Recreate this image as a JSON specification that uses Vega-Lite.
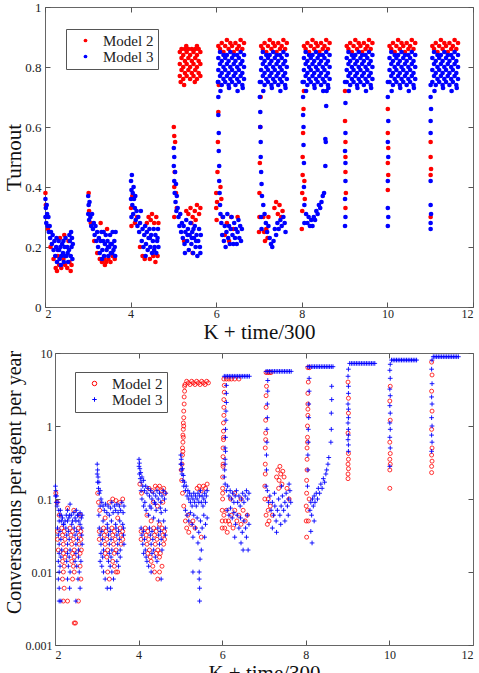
{
"$schema":"https://vega.github.io/schema/vega-lite/v6.json",
"background":"white",
"padding":{"left":3,"top":0,"right":6,"bottom":0},
"config":{
"view":{"stroke":"#666","strokeWidth":1},
"axis":{"grid":false,"domain":false,"domainColor":"#666","tickColor":"#555","tickSize":-5,"tickWidth":1,"labelFont":"Liberation Serif","labelFontSize":12,"labelColor":"#222","titleFont":"Liberation Serif","titleFontSize":21,"titleFontWeight":"normal","titleColor":"#111","labelPadding":9},
"legend":{"orient":"none","labelFont":"Liberation Serif","labelFontSize":15,"labelColor":"#222","strokeColor":"#555","padding":4,"symbolOffset":8,"labelOffset":10,"rowPadding":0,"symbolStrokeWidth":1}
},
"columns":1,
"spacing":4,
"resolve":{"scale":{"color":"independent","shape":"independent"},"legend":{"color":"independent","shape":"independent"}},
"datasets":{
"t":[
{"m":2,"x":2.01,"y":0.38},{"m":2,"x":2.02,"y":0.34},{"m":2,"x":2.03,"y":0.3},{"m":2,"x":2.07,"y":0.26},{"m":2,"x":2.13,"y":0.2},{"m":2,"x":2.2,"y":0.16},{"m":2,"x":2.25,"y":0.13},{"m":2,"x":2.28,"y":0.12},{"m":2,"x":2.33,"y":0.14},{"m":2,"x":2.38,"y":0.13},{"m":2,"x":2.43,"y":0.16},{"m":2,"x":2.47,"y":0.14},{"m":2,"x":2.52,"y":0.13},{"m":2,"x":2.57,"y":0.15},{"m":2,"x":2.62,"y":0.14},{"m":2,"x":2.35,"y":0.23},{"m":2,"x":2.45,"y":0.24},{"m":2,"x":2.55,"y":0.22},{"m":2,"x":2.3,"y":0.17},{"m":2,"x":2.6,"y":0.12},
{"m":2,"x":3.02,"y":0.38},{"m":2,"x":3.03,"y":0.32},{"m":2,"x":3.07,"y":0.28},{"m":2,"x":3.15,"y":0.22},{"m":2,"x":3.22,"y":0.18},{"m":2,"x":3.28,"y":0.16},{"m":2,"x":3.33,"y":0.15},{"m":2,"x":3.38,"y":0.16},{"m":2,"x":3.43,"y":0.15},{"m":2,"x":3.48,"y":0.16},{"m":2,"x":3.53,"y":0.15},{"m":2,"x":3.58,"y":0.17},{"m":2,"x":3.63,"y":0.16},{"m":2,"x":3.3,"y":0.28},{"m":2,"x":3.45,"y":0.26},{"m":2,"x":3.4,"y":0.14},
{"m":2,"x":4.01,"y":0.33},{"m":2,"x":4.02,"y":0.27},{"m":2,"x":4.04,"y":0.37},{"m":2,"x":4.1,"y":0.28},{"m":2,"x":4.15,"y":0.3},{"m":2,"x":4.22,"y":0.2},{"m":2,"x":4.28,"y":0.17},{"m":2,"x":4.33,"y":0.16},{"m":2,"x":4.38,"y":0.28},{"m":2,"x":4.42,"y":0.3},{"m":2,"x":4.47,"y":0.29},{"m":2,"x":4.5,"y":0.31},{"m":2,"x":4.53,"y":0.17},{"m":2,"x":4.55,"y":0.28},{"m":2,"x":4.58,"y":0.15},{"m":2,"x":4.6,"y":0.3},{"m":2,"x":4.63,"y":0.17},{"m":2,"x":4.65,"y":0.28},{"m":2,"x":4.45,"y":0.16},
{"m":2,"x":5.01,"y":0.6},{"m":2,"x":5.02,"y":0.57},{"m":2,"x":5.04,"y":0.55},{"m":2,"x":5.03,"y":0.45},{"m":2,"x":5.02,"y":0.4},{"m":2,"x":5.06,"y":0.38},{"m":2,"x":5.08,"y":0.33},{"m":2,"x":5.02,"y":0.3},{"m":2,"x":5.3,"y":0.32},{"m":2,"x":5.35,"y":0.31},{"m":2,"x":5.4,"y":0.33},{"m":2,"x":5.45,"y":0.3},{"m":2,"x":5.5,"y":0.32},{"m":2,"x":5.55,"y":0.34},{"m":2,"x":5.6,"y":0.31},{"m":2,"x":5.63,"y":0.33},{"m":2,"x":5.42,"y":0.28},{"m":2,"x":5.52,"y":0.29},{"m":2,"x":5.25,"y":0.22},{"m":2,"x":5.45,"y":0.18},
{"m":2,"x":5.15,"y":0.77},{"m":2,"x":5.15,"y":0.81},{"m":2,"x":5.15,"y":0.85},{"m":2,"x":5.19,"y":0.79},{"m":2,"x":5.19,"y":0.83},{"m":2,"x":5.19,"y":0.86},{"m":2,"x":5.23,"y":0.76},{"m":2,"x":5.23,"y":0.8},{"m":2,"x":5.23,"y":0.84},{"m":2,"x":5.27,"y":0.78},{"m":2,"x":5.27,"y":0.82},{"m":2,"x":5.27,"y":0.86},{"m":2,"x":5.31,"y":0.77},{"m":2,"x":5.31,"y":0.81},{"m":2,"x":5.31,"y":0.85},{"m":2,"x":5.35,"y":0.79},{"m":2,"x":5.35,"y":0.83},{"m":2,"x":5.35,"y":0.86},{"m":2,"x":5.39,"y":0.76},{"m":2,"x":5.39,"y":0.8},{"m":2,"x":5.39,"y":0.84},{"m":2,"x":5.43,"y":0.78},{"m":2,"x":5.43,"y":0.82},{"m":2,"x":5.43,"y":0.86},{"m":2,"x":5.47,"y":0.77},{"m":2,"x":5.47,"y":0.81},{"m":2,"x":5.47,"y":0.85},{"m":2,"x":5.51,"y":0.79},{"m":2,"x":5.51,"y":0.83},{"m":2,"x":5.51,"y":0.86},{"m":2,"x":5.55,"y":0.76},{"m":2,"x":5.55,"y":0.8},{"m":2,"x":5.55,"y":0.84},{"m":2,"x":5.59,"y":0.78},{"m":2,"x":5.59,"y":0.82},{"m":2,"x":5.59,"y":0.86},{"m":2,"x":5.63,"y":0.77},{"m":2,"x":5.63,"y":0.81},{"m":2,"x":5.63,"y":0.85},{"m":2,"x":5.17,"y":0.75},{"m":2,"x":5.25,"y":0.74},{"m":2,"x":5.5,"y":0.75},{"m":2,"x":5.3,"y":0.87},{"m":2,"x":5.55,"y":0.87},
{"m":2,"x":6.0,"y":0.38},{"m":2,"x":6.0,"y":0.33},{"m":2,"x":6.01,"y":0.29},{"m":2,"x":6.02,"y":0.35},{"m":2,"x":6.03,"y":0.45},{"m":2,"x":6.04,"y":0.55},{"m":2,"x":6.05,"y":0.65},{"m":2,"x":6.06,"y":0.74},{"m":2,"x":6.1,"y":0.4},{"m":2,"x":6.12,"y":0.36},{"m":2,"x":6.15,"y":0.3},{"m":2,"x":6.2,"y":0.24},{"m":2,"x":6.25,"y":0.28},{"m":2,"x":6.3,"y":0.22},{"m":2,"x":6.35,"y":0.3},{"m":2,"x":6.4,"y":0.26},{"m":2,"x":6.5,"y":0.3},
{"m":2,"x":6.05,"y":0.87},{"m":2,"x":6.09,"y":0.86},{"m":2,"x":6.13,"y":0.88},{"m":2,"x":6.17,"y":0.85},{"m":2,"x":6.21,"y":0.87},{"m":2,"x":6.25,"y":0.89},{"m":2,"x":6.29,"y":0.86},{"m":2,"x":6.33,"y":0.88},{"m":2,"x":6.37,"y":0.87},{"m":2,"x":6.41,"y":0.85},{"m":2,"x":6.45,"y":0.88},{"m":2,"x":6.49,"y":0.86},{"m":2,"x":6.53,"y":0.87},{"m":2,"x":6.57,"y":0.89},{"m":2,"x":6.61,"y":0.86},{"m":2,"x":6.65,"y":0.88},
{"m":2,"x":7.0,"y":0.25},{"m":2,"x":7.01,"y":0.3},{"m":2,"x":7.01,"y":0.38},{"m":2,"x":7.02,"y":0.48},{"m":2,"x":7.03,"y":0.6},{"m":2,"x":7.04,"y":0.7},{"m":2,"x":7.1,"y":0.3},{"m":2,"x":7.12,"y":0.25},{"m":2,"x":7.14,"y":0.22},{"m":2,"x":7.17,"y":0.26},{"m":2,"x":7.2,"y":0.23},{"m":2,"x":7.22,"y":0.3},{"m":2,"x":7.36,"y":0.33},{"m":2,"x":7.4,"y":0.35},{"m":2,"x":7.44,"y":0.31},{"m":2,"x":7.48,"y":0.34},{"m":2,"x":7.52,"y":0.3},{"m":2,"x":7.55,"y":0.32},
{"m":2,"x":7.05,"y":0.87},{"m":2,"x":7.09,"y":0.86},{"m":2,"x":7.13,"y":0.88},{"m":2,"x":7.17,"y":0.85},{"m":2,"x":7.21,"y":0.87},{"m":2,"x":7.25,"y":0.89},{"m":2,"x":7.29,"y":0.86},{"m":2,"x":7.33,"y":0.88},{"m":2,"x":7.37,"y":0.87},{"m":2,"x":7.41,"y":0.85},{"m":2,"x":7.45,"y":0.88},{"m":2,"x":7.49,"y":0.86},{"m":2,"x":7.53,"y":0.87},{"m":2,"x":7.57,"y":0.89},{"m":2,"x":7.61,"y":0.86},{"m":2,"x":7.65,"y":0.88},
{"m":2,"x":8.0,"y":0.26},{"m":2,"x":8.01,"y":0.32},{"m":2,"x":8.01,"y":0.38},{"m":2,"x":8.02,"y":0.44},{"m":2,"x":8.02,"y":0.5},{"m":2,"x":8.03,"y":0.58},{"m":2,"x":8.04,"y":0.66},{"m":2,"x":8.05,"y":0.72},{"m":2,"x":8.06,"y":0.42},{"m":2,"x":8.07,"y":0.36},
{"m":2,"x":8.05,"y":0.87},{"m":2,"x":8.09,"y":0.86},{"m":2,"x":8.13,"y":0.88},{"m":2,"x":8.17,"y":0.85},{"m":2,"x":8.21,"y":0.87},{"m":2,"x":8.25,"y":0.89},{"m":2,"x":8.29,"y":0.86},{"m":2,"x":8.33,"y":0.88},{"m":2,"x":8.37,"y":0.87},{"m":2,"x":8.41,"y":0.85},{"m":2,"x":8.45,"y":0.88},{"m":2,"x":8.49,"y":0.86},{"m":2,"x":8.53,"y":0.87},{"m":2,"x":8.57,"y":0.89},{"m":2,"x":8.61,"y":0.86},{"m":2,"x":8.65,"y":0.88},
{"m":2,"x":9.01,"y":0.72},{"m":2,"x":9.01,"y":0.62},{"m":2,"x":9.02,"y":0.55},{"m":2,"x":9.02,"y":0.5},{"m":2,"x":9.02,"y":0.45},{"m":2,"x":9.03,"y":0.38},{"m":2,"x":9.02,"y":0.33},
{"m":2,"x":9.05,"y":0.87},{"m":2,"x":9.09,"y":0.86},{"m":2,"x":9.13,"y":0.88},{"m":2,"x":9.17,"y":0.85},{"m":2,"x":9.21,"y":0.87},{"m":2,"x":9.25,"y":0.89},{"m":2,"x":9.29,"y":0.86},{"m":2,"x":9.33,"y":0.88},{"m":2,"x":9.37,"y":0.87},{"m":2,"x":9.41,"y":0.85},{"m":2,"x":9.45,"y":0.88},{"m":2,"x":9.49,"y":0.86},{"m":2,"x":9.53,"y":0.87},{"m":2,"x":9.57,"y":0.89},{"m":2,"x":9.61,"y":0.86},{"m":2,"x":9.65,"y":0.88},
{"m":2,"x":10.01,"y":0.66},{"m":2,"x":10.01,"y":0.58},{"m":2,"x":10.02,"y":0.53},{"m":2,"x":10.01,"y":0.48},{"m":2,"x":10.02,"y":0.44},{"m":2,"x":10.01,"y":0.39},
{"m":2,"x":10.05,"y":0.87},{"m":2,"x":10.09,"y":0.86},{"m":2,"x":10.13,"y":0.88},{"m":2,"x":10.17,"y":0.85},{"m":2,"x":10.21,"y":0.87},{"m":2,"x":10.25,"y":0.89},{"m":2,"x":10.29,"y":0.86},{"m":2,"x":10.33,"y":0.88},{"m":2,"x":10.37,"y":0.87},{"m":2,"x":10.41,"y":0.85},{"m":2,"x":10.45,"y":0.88},{"m":2,"x":10.49,"y":0.86},{"m":2,"x":10.53,"y":0.87},{"m":2,"x":10.57,"y":0.89},{"m":2,"x":10.61,"y":0.86},{"m":2,"x":10.65,"y":0.88},
{"m":2,"x":11.01,"y":0.55},{"m":2,"x":11.01,"y":0.5},{"m":2,"x":11.02,"y":0.46},{"m":2,"x":11.01,"y":0.44},{"m":2,"x":11.01,"y":0.3},
{"m":2,"x":11.05,"y":0.87},{"m":2,"x":11.09,"y":0.86},{"m":2,"x":11.13,"y":0.88},{"m":2,"x":11.17,"y":0.85},{"m":2,"x":11.21,"y":0.87},{"m":2,"x":11.25,"y":0.89},{"m":2,"x":11.29,"y":0.86},{"m":2,"x":11.33,"y":0.88},{"m":2,"x":11.37,"y":0.87},{"m":2,"x":11.41,"y":0.85},{"m":2,"x":11.45,"y":0.88},{"m":2,"x":11.49,"y":0.86},{"m":2,"x":11.53,"y":0.87},{"m":2,"x":11.57,"y":0.89},{"m":2,"x":11.61,"y":0.86},{"m":2,"x":11.65,"y":0.88},
{"m":3,"x":2.01,"y":0.36},{"m":3,"x":2.01,"y":0.3},{"m":3,"x":2.02,"y":0.33},{"m":3,"x":2.03,"y":0.28},{"m":3,"x":2.04,"y":0.34},{"m":3,"x":2.05,"y":0.31},{"m":3,"x":2.06,"y":0.27},{"m":3,"x":2.08,"y":0.3},{"m":3,"x":2.09,"y":0.25},{"m":3,"x":2.11,"y":0.27},{"m":3,"x":2.12,"y":0.23},{"m":3,"x":2.14,"y":0.25},{"m":3,"x":2.16,"y":0.21},{"m":3,"x":2.18,"y":0.24},{"m":3,"x":2.2,"y":0.19},{"m":3,"x":2.22,"y":0.22},{"m":3,"x":2.24,"y":0.17},{"m":3,"x":2.26,"y":0.2},{"m":3,"x":2.28,"y":0.15},{"m":3,"x":2.3,"y":0.19},{"m":3,"x":2.32,"y":0.22},{"m":3,"x":2.34,"y":0.16},{"m":3,"x":2.36,"y":0.2},{"m":3,"x":2.38,"y":0.17},{"m":3,"x":2.4,"y":0.21},{"m":3,"x":2.42,"y":0.18},{"m":3,"x":2.44,"y":0.15},{"m":3,"x":2.46,"y":0.2},{"m":3,"x":2.48,"y":0.23},{"m":3,"x":2.5,"y":0.17},{"m":3,"x":2.52,"y":0.2},{"m":3,"x":2.54,"y":0.15},{"m":3,"x":2.56,"y":0.19},{"m":3,"x":2.58,"y":0.22},{"m":3,"x":2.6,"y":0.17},{"m":3,"x":2.61,"y":0.25},{"m":3,"x":2.62,"y":0.2},{"m":3,"x":2.64,"y":0.16},{"m":3,"x":2.65,"y":0.21},{"m":3,"x":2.27,"y":0.23},{"m":3,"x":2.37,"y":0.14},{"m":3,"x":2.47,"y":0.17},{"m":3,"x":2.57,"y":0.24},{"m":3,"x":2.33,"y":0.19},{"m":3,"x":2.43,"y":0.22},{"m":3,"x":2.53,"y":0.18},{"m":3,"x":2.63,"y":0.23},
{"m":3,"x":3.01,"y":0.37},{"m":3,"x":3.01,"y":0.31},{"m":3,"x":3.02,"y":0.34},{"m":3,"x":3.03,"y":0.29},{"m":3,"x":3.04,"y":0.35},{"m":3,"x":3.06,"y":0.3},{"m":3,"x":3.08,"y":0.27},{"m":3,"x":3.1,"y":0.31},{"m":3,"x":3.12,"y":0.26},{"m":3,"x":3.14,"y":0.28},{"m":3,"x":3.16,"y":0.24},{"m":3,"x":3.18,"y":0.27},{"m":3,"x":3.2,"y":0.22},{"m":3,"x":3.22,"y":0.25},{"m":3,"x":3.24,"y":0.2},{"m":3,"x":3.26,"y":0.23},{"m":3,"x":3.28,"y":0.18},{"m":3,"x":3.3,"y":0.22},{"m":3,"x":3.32,"y":0.25},{"m":3,"x":3.34,"y":0.19},{"m":3,"x":3.36,"y":0.22},{"m":3,"x":3.38,"y":0.17},{"m":3,"x":3.4,"y":0.21},{"m":3,"x":3.42,"y":0.24},{"m":3,"x":3.44,"y":0.19},{"m":3,"x":3.46,"y":0.22},{"m":3,"x":3.48,"y":0.17},{"m":3,"x":3.5,"y":0.2},{"m":3,"x":3.52,"y":0.24},{"m":3,"x":3.54,"y":0.18},{"m":3,"x":3.56,"y":0.21},{"m":3,"x":3.58,"y":0.25},{"m":3,"x":3.6,"y":0.19},{"m":3,"x":3.62,"y":0.22},{"m":3,"x":3.64,"y":0.17},{"m":3,"x":3.65,"y":0.25},{"m":3,"x":3.37,"y":0.25},{"m":3,"x":3.47,"y":0.2},{"m":3,"x":3.57,"y":0.18},{"m":3,"x":3.33,"y":0.16},{"m":3,"x":3.53,"y":0.21},{"m":3,"x":3.63,"y":0.2},
{"m":3,"x":4.01,"y":0.42},{"m":3,"x":4.01,"y":0.36},{"m":3,"x":4.02,"y":0.39},{"m":3,"x":4.02,"y":0.3},{"m":3,"x":4.03,"y":0.44},{"m":3,"x":4.04,"y":0.34},{"m":3,"x":4.05,"y":0.38},{"m":3,"x":4.06,"y":0.31},{"m":3,"x":4.08,"y":0.36},{"m":3,"x":4.1,"y":0.33},{"m":3,"x":4.12,"y":0.29},{"m":3,"x":4.14,"y":0.32},{"m":3,"x":4.16,"y":0.27},{"m":3,"x":4.18,"y":0.3},{"m":3,"x":4.2,"y":0.25},{"m":3,"x":4.22,"y":0.28},{"m":3,"x":4.24,"y":0.32},{"m":3,"x":4.26,"y":0.22},{"m":3,"x":4.28,"y":0.26},{"m":3,"x":4.3,"y":0.2},{"m":3,"x":4.32,"y":0.24},{"m":3,"x":4.34,"y":0.27},{"m":3,"x":4.36,"y":0.21},{"m":3,"x":4.38,"y":0.25},{"m":3,"x":4.4,"y":0.19},{"m":3,"x":4.42,"y":0.23},{"m":3,"x":4.44,"y":0.26},{"m":3,"x":4.46,"y":0.2},{"m":3,"x":4.48,"y":0.24},{"m":3,"x":4.5,"y":0.18},{"m":3,"x":4.52,"y":0.22},{"m":3,"x":4.54,"y":0.26},{"m":3,"x":4.56,"y":0.2},{"m":3,"x":4.58,"y":0.24},{"m":3,"x":4.6,"y":0.18},{"m":3,"x":4.62,"y":0.22},{"m":3,"x":4.64,"y":0.26},{"m":3,"x":4.65,"y":0.2},{"m":3,"x":4.07,"y":0.4},{"m":3,"x":4.11,"y":0.37},{"m":3,"x":4.35,"y":0.17},{"m":3,"x":4.45,"y":0.23},{"m":3,"x":4.55,"y":0.19},{"m":3,"x":4.63,"y":0.23},
{"m":3,"x":5.01,"y":0.53},{"m":3,"x":5.01,"y":0.47},{"m":3,"x":5.02,"y":0.5},{"m":3,"x":5.02,"y":0.42},{"m":3,"x":5.03,"y":0.38},{"m":3,"x":5.04,"y":0.45},{"m":3,"x":5.05,"y":0.35},{"m":3,"x":5.06,"y":0.41},{"m":3,"x":5.07,"y":0.32},{"m":3,"x":5.08,"y":0.37},{"m":3,"x":5.1,"y":0.33},{"m":3,"x":5.12,"y":0.3},{"m":3,"x":5.14,"y":0.27},{"m":3,"x":5.16,"y":0.31},{"m":3,"x":5.18,"y":0.25},{"m":3,"x":5.2,"y":0.28},{"m":3,"x":5.22,"y":0.23},{"m":3,"x":5.24,"y":0.27},{"m":3,"x":5.26,"y":0.21},{"m":3,"x":5.28,"y":0.25},{"m":3,"x":5.3,"y":0.29},{"m":3,"x":5.32,"y":0.22},{"m":3,"x":5.34,"y":0.26},{"m":3,"x":5.36,"y":0.19},{"m":3,"x":5.38,"y":0.24},{"m":3,"x":5.4,"y":0.28},{"m":3,"x":5.42,"y":0.21},{"m":3,"x":5.44,"y":0.25},{"m":3,"x":5.46,"y":0.18},{"m":3,"x":5.48,"y":0.23},{"m":3,"x":5.5,"y":0.27},{"m":3,"x":5.52,"y":0.2},{"m":3,"x":5.54,"y":0.24},{"m":3,"x":5.56,"y":0.17},{"m":3,"x":5.58,"y":0.22},{"m":3,"x":5.6,"y":0.26},{"m":3,"x":5.62,"y":0.2},{"m":3,"x":5.64,"y":0.24},{"m":3,"x":5.33,"y":0.24},{"m":3,"x":5.43,"y":0.23},{"m":3,"x":5.53,"y":0.22},{"m":3,"x":5.63,"y":0.18},{"m":3,"x":5.27,"y":0.18},{"m":3,"x":5.47,"y":0.26},
{"m":3,"x":6.04,"y":0.75},{"m":3,"x":6.05,"y":0.7},{"m":3,"x":6.05,"y":0.64},{"m":3,"x":6.06,"y":0.58},{"m":3,"x":6.06,"y":0.52},{"m":3,"x":6.07,"y":0.47},{"m":3,"x":6.07,"y":0.42},{"m":3,"x":6.08,"y":0.38},{"m":3,"x":6.09,"y":0.34},{"m":3,"x":6.1,"y":0.31},
{"m":3,"x":6.12,"y":0.28},{"m":3,"x":6.14,"y":0.24},{"m":3,"x":6.16,"y":0.3},{"m":3,"x":6.18,"y":0.22},{"m":3,"x":6.2,"y":0.27},{"m":3,"x":6.22,"y":0.2},{"m":3,"x":6.24,"y":0.25},{"m":3,"x":6.26,"y":0.31},{"m":3,"x":6.28,"y":0.23},{"m":3,"x":6.3,"y":0.27},{"m":3,"x":6.32,"y":0.21},{"m":3,"x":6.34,"y":0.26},{"m":3,"x":6.36,"y":0.3},{"m":3,"x":6.38,"y":0.24},{"m":3,"x":6.4,"y":0.21},{"m":3,"x":6.42,"y":0.28},{"m":3,"x":6.44,"y":0.23},{"m":3,"x":6.46,"y":0.26},{"m":3,"x":6.48,"y":0.21},{"m":3,"x":6.5,"y":0.25},{"m":3,"x":6.52,"y":0.29},{"m":3,"x":6.54,"y":0.23},{"m":3,"x":6.56,"y":0.27},{"m":3,"x":6.58,"y":0.22},{"m":3,"x":6.6,"y":0.26},
{"m":3,"x":6.05,"y":0.75},{"m":3,"x":6.05,"y":0.79},{"m":3,"x":6.05,"y":0.83},{"m":3,"x":6.09,"y":0.77},{"m":3,"x":6.09,"y":0.81},{"m":3,"x":6.09,"y":0.85},{"m":3,"x":6.13,"y":0.74},{"m":3,"x":6.13,"y":0.78},{"m":3,"x":6.13,"y":0.82},{"m":3,"x":6.17,"y":0.76},{"m":3,"x":6.17,"y":0.8},{"m":3,"x":6.17,"y":0.84},{"m":3,"x":6.21,"y":0.75},{"m":3,"x":6.21,"y":0.79},{"m":3,"x":6.21,"y":0.83},{"m":3,"x":6.25,"y":0.77},{"m":3,"x":6.25,"y":0.81},{"m":3,"x":6.25,"y":0.84},{"m":3,"x":6.29,"y":0.74},{"m":3,"x":6.29,"y":0.78},{"m":3,"x":6.29,"y":0.82},{"m":3,"x":6.33,"y":0.76},{"m":3,"x":6.33,"y":0.8},{"m":3,"x":6.33,"y":0.85},{"m":3,"x":6.37,"y":0.75},{"m":3,"x":6.37,"y":0.79},{"m":3,"x":6.37,"y":0.83},{"m":3,"x":6.41,"y":0.77},{"m":3,"x":6.41,"y":0.81},{"m":3,"x":6.41,"y":0.84},{"m":3,"x":6.45,"y":0.74},{"m":3,"x":6.45,"y":0.78},{"m":3,"x":6.45,"y":0.82},{"m":3,"x":6.49,"y":0.76},{"m":3,"x":6.49,"y":0.8},{"m":3,"x":6.49,"y":0.84},{"m":3,"x":6.53,"y":0.75},{"m":3,"x":6.53,"y":0.79},{"m":3,"x":6.53,"y":0.83},{"m":3,"x":6.57,"y":0.77},{"m":3,"x":6.57,"y":0.81},{"m":3,"x":6.57,"y":0.85},{"m":3,"x":6.61,"y":0.74},{"m":3,"x":6.61,"y":0.78},{"m":3,"x":6.61,"y":0.82},{"m":3,"x":6.65,"y":0.76},{"m":3,"x":6.65,"y":0.8},{"m":3,"x":6.65,"y":0.84},{"m":3,"x":6.1,"y":0.72},{"m":3,"x":6.3,"y":0.73},{"m":3,"x":6.5,"y":0.72},{"m":3,"x":6.62,"y":0.73},
{"m":3,"x":7.02,"y":0.75},{"m":3,"x":7.02,"y":0.7},{"m":3,"x":7.03,"y":0.65},{"m":3,"x":7.03,"y":0.6},{"m":3,"x":7.04,"y":0.55},{"m":3,"x":7.04,"y":0.5},{"m":3,"x":7.05,"y":0.45},{"m":3,"x":7.06,"y":0.41},{"m":3,"x":7.07,"y":0.37},{"m":3,"x":7.05,"y":0.3},{"m":3,"x":7.06,"y":0.26},
{"m":3,"x":7.1,"y":0.34},{"m":3,"x":7.13,"y":0.31},{"m":3,"x":7.16,"y":0.28},{"m":3,"x":7.19,"y":0.25},{"m":3,"x":7.22,"y":0.27},{"m":3,"x":7.25,"y":0.23},{"m":3,"x":7.28,"y":0.21},{"m":3,"x":7.31,"y":0.2},{"m":3,"x":7.34,"y":0.22},{"m":3,"x":7.37,"y":0.26},{"m":3,"x":7.4,"y":0.24},{"m":3,"x":7.43,"y":0.28},{"m":3,"x":7.46,"y":0.26},{"m":3,"x":7.5,"y":0.29},{"m":3,"x":7.53,"y":0.27},{"m":3,"x":7.57,"y":0.3},{"m":3,"x":7.6,"y":0.28},{"m":3,"x":7.62,"y":0.25},
{"m":3,"x":7.05,"y":0.75},{"m":3,"x":7.05,"y":0.79},{"m":3,"x":7.05,"y":0.83},{"m":3,"x":7.09,"y":0.77},{"m":3,"x":7.09,"y":0.81},{"m":3,"x":7.09,"y":0.85},{"m":3,"x":7.13,"y":0.74},{"m":3,"x":7.13,"y":0.78},{"m":3,"x":7.13,"y":0.82},{"m":3,"x":7.17,"y":0.76},{"m":3,"x":7.17,"y":0.8},{"m":3,"x":7.17,"y":0.84},{"m":3,"x":7.21,"y":0.75},{"m":3,"x":7.21,"y":0.79},{"m":3,"x":7.21,"y":0.83},{"m":3,"x":7.25,"y":0.77},{"m":3,"x":7.25,"y":0.81},{"m":3,"x":7.25,"y":0.84},{"m":3,"x":7.29,"y":0.74},{"m":3,"x":7.29,"y":0.78},{"m":3,"x":7.29,"y":0.82},{"m":3,"x":7.33,"y":0.76},{"m":3,"x":7.33,"y":0.8},{"m":3,"x":7.33,"y":0.85},{"m":3,"x":7.37,"y":0.75},{"m":3,"x":7.37,"y":0.79},{"m":3,"x":7.37,"y":0.83},{"m":3,"x":7.41,"y":0.77},{"m":3,"x":7.41,"y":0.81},{"m":3,"x":7.41,"y":0.84},{"m":3,"x":7.45,"y":0.74},{"m":3,"x":7.45,"y":0.78},{"m":3,"x":7.45,"y":0.82},{"m":3,"x":7.49,"y":0.76},{"m":3,"x":7.49,"y":0.8},{"m":3,"x":7.49,"y":0.84},{"m":3,"x":7.53,"y":0.75},{"m":3,"x":7.53,"y":0.79},{"m":3,"x":7.53,"y":0.83},{"m":3,"x":7.57,"y":0.77},{"m":3,"x":7.57,"y":0.81},{"m":3,"x":7.57,"y":0.85},{"m":3,"x":7.61,"y":0.74},{"m":3,"x":7.61,"y":0.78},{"m":3,"x":7.61,"y":0.82},{"m":3,"x":7.65,"y":0.76},{"m":3,"x":7.65,"y":0.8},{"m":3,"x":7.65,"y":0.84},{"m":3,"x":7.1,"y":0.72},{"m":3,"x":7.3,"y":0.73},{"m":3,"x":7.5,"y":0.72},{"m":3,"x":7.62,"y":0.73},
{"m":3,"x":8.02,"y":0.75},{"m":3,"x":8.03,"y":0.7},{"m":3,"x":8.03,"y":0.64},{"m":3,"x":8.04,"y":0.6},{"m":3,"x":8.04,"y":0.54},{"m":3,"x":8.05,"y":0.48},{"m":3,"x":8.05,"y":0.4},{"m":3,"x":8.06,"y":0.34},{"m":3,"x":8.06,"y":0.28},
{"m":3,"x":8.1,"y":0.31},{"m":3,"x":8.13,"y":0.28},{"m":3,"x":8.16,"y":0.3},{"m":3,"x":8.19,"y":0.27},{"m":3,"x":8.22,"y":0.29},{"m":3,"x":8.25,"y":0.27},{"m":3,"x":8.28,"y":0.3},{"m":3,"x":8.31,"y":0.29},{"m":3,"x":8.34,"y":0.32},{"m":3,"x":8.37,"y":0.31},{"m":3,"x":8.4,"y":0.34},{"m":3,"x":8.43,"y":0.33},{"m":3,"x":8.46,"y":0.35},{"m":3,"x":8.49,"y":0.37},{"m":3,"x":8.52,"y":0.38},{"m":3,"x":8.55,"y":0.47},{"m":3,"x":8.56,"y":0.55},{"m":3,"x":8.55,"y":0.56},{"m":3,"x":8.57,"y":0.67},{"m":3,"x":8.58,"y":0.72},
{"m":3,"x":8.05,"y":0.75},{"m":3,"x":8.05,"y":0.79},{"m":3,"x":8.05,"y":0.83},{"m":3,"x":8.09,"y":0.77},{"m":3,"x":8.09,"y":0.81},{"m":3,"x":8.09,"y":0.85},{"m":3,"x":8.13,"y":0.74},{"m":3,"x":8.13,"y":0.78},{"m":3,"x":8.13,"y":0.82},{"m":3,"x":8.17,"y":0.76},{"m":3,"x":8.17,"y":0.8},{"m":3,"x":8.17,"y":0.84},{"m":3,"x":8.21,"y":0.75},{"m":3,"x":8.21,"y":0.79},{"m":3,"x":8.21,"y":0.83},{"m":3,"x":8.25,"y":0.77},{"m":3,"x":8.25,"y":0.81},{"m":3,"x":8.25,"y":0.84},{"m":3,"x":8.29,"y":0.74},{"m":3,"x":8.29,"y":0.78},{"m":3,"x":8.29,"y":0.82},{"m":3,"x":8.33,"y":0.76},{"m":3,"x":8.33,"y":0.8},{"m":3,"x":8.33,"y":0.85},{"m":3,"x":8.37,"y":0.75},{"m":3,"x":8.37,"y":0.79},{"m":3,"x":8.37,"y":0.83},{"m":3,"x":8.41,"y":0.77},{"m":3,"x":8.41,"y":0.81},{"m":3,"x":8.41,"y":0.84},{"m":3,"x":8.45,"y":0.74},{"m":3,"x":8.45,"y":0.78},{"m":3,"x":8.45,"y":0.82},{"m":3,"x":8.49,"y":0.76},{"m":3,"x":8.49,"y":0.8},{"m":3,"x":8.49,"y":0.84},{"m":3,"x":8.53,"y":0.75},{"m":3,"x":8.53,"y":0.79},{"m":3,"x":8.53,"y":0.83},{"m":3,"x":8.57,"y":0.77},{"m":3,"x":8.57,"y":0.81},{"m":3,"x":8.57,"y":0.85},{"m":3,"x":8.61,"y":0.74},{"m":3,"x":8.61,"y":0.78},{"m":3,"x":8.61,"y":0.82},{"m":3,"x":8.65,"y":0.76},{"m":3,"x":8.65,"y":0.8},{"m":3,"x":8.65,"y":0.84},{"m":3,"x":8.1,"y":0.72},{"m":3,"x":8.3,"y":0.73},{"m":3,"x":8.5,"y":0.72},{"m":3,"x":8.62,"y":0.73},
{"m":3,"x":9.01,"y":0.75},{"m":3,"x":9.02,"y":0.68},{"m":3,"x":9.02,"y":0.58},{"m":3,"x":9.01,"y":0.52},{"m":3,"x":9.02,"y":0.48},{"m":3,"x":9.02,"y":0.42},{"m":3,"x":9.01,"y":0.36},{"m":3,"x":9.02,"y":0.3},{"m":3,"x":9.01,"y":0.27},
{"m":3,"x":9.05,"y":0.75},{"m":3,"x":9.05,"y":0.79},{"m":3,"x":9.05,"y":0.83},{"m":3,"x":9.09,"y":0.77},{"m":3,"x":9.09,"y":0.81},{"m":3,"x":9.09,"y":0.85},{"m":3,"x":9.13,"y":0.74},{"m":3,"x":9.13,"y":0.78},{"m":3,"x":9.13,"y":0.82},{"m":3,"x":9.17,"y":0.76},{"m":3,"x":9.17,"y":0.8},{"m":3,"x":9.17,"y":0.84},{"m":3,"x":9.21,"y":0.75},{"m":3,"x":9.21,"y":0.79},{"m":3,"x":9.21,"y":0.83},{"m":3,"x":9.25,"y":0.77},{"m":3,"x":9.25,"y":0.81},{"m":3,"x":9.25,"y":0.84},{"m":3,"x":9.29,"y":0.74},{"m":3,"x":9.29,"y":0.78},{"m":3,"x":9.29,"y":0.82},{"m":3,"x":9.33,"y":0.76},{"m":3,"x":9.33,"y":0.8},{"m":3,"x":9.33,"y":0.85},{"m":3,"x":9.37,"y":0.75},{"m":3,"x":9.37,"y":0.79},{"m":3,"x":9.37,"y":0.83},{"m":3,"x":9.41,"y":0.77},{"m":3,"x":9.41,"y":0.81},{"m":3,"x":9.41,"y":0.84},{"m":3,"x":9.45,"y":0.74},{"m":3,"x":9.45,"y":0.78},{"m":3,"x":9.45,"y":0.82},{"m":3,"x":9.49,"y":0.76},{"m":3,"x":9.49,"y":0.8},{"m":3,"x":9.49,"y":0.84},{"m":3,"x":9.53,"y":0.75},{"m":3,"x":9.53,"y":0.79},{"m":3,"x":9.53,"y":0.83},{"m":3,"x":9.57,"y":0.77},{"m":3,"x":9.57,"y":0.81},{"m":3,"x":9.57,"y":0.85},{"m":3,"x":9.61,"y":0.74},{"m":3,"x":9.61,"y":0.78},{"m":3,"x":9.61,"y":0.82},{"m":3,"x":9.65,"y":0.76},{"m":3,"x":9.65,"y":0.8},{"m":3,"x":9.65,"y":0.84},{"m":3,"x":9.1,"y":0.72},{"m":3,"x":9.3,"y":0.73},{"m":3,"x":9.5,"y":0.72},{"m":3,"x":9.62,"y":0.73},
{"m":3,"x":10.01,"y":0.75},{"m":3,"x":10.01,"y":0.7},{"m":3,"x":10.02,"y":0.62},{"m":3,"x":10.01,"y":0.55},{"m":3,"x":10.02,"y":0.5},{"m":3,"x":10.01,"y":0.42},{"m":3,"x":10.01,"y":0.33},{"m":3,"x":10.02,"y":0.3},{"m":3,"x":10.01,"y":0.27},
{"m":3,"x":10.05,"y":0.75},{"m":3,"x":10.05,"y":0.79},{"m":3,"x":10.05,"y":0.83},{"m":3,"x":10.09,"y":0.77},{"m":3,"x":10.09,"y":0.81},{"m":3,"x":10.09,"y":0.85},{"m":3,"x":10.13,"y":0.74},{"m":3,"x":10.13,"y":0.78},{"m":3,"x":10.13,"y":0.82},{"m":3,"x":10.17,"y":0.76},{"m":3,"x":10.17,"y":0.8},{"m":3,"x":10.17,"y":0.84},{"m":3,"x":10.21,"y":0.75},{"m":3,"x":10.21,"y":0.79},{"m":3,"x":10.21,"y":0.83},{"m":3,"x":10.25,"y":0.77},{"m":3,"x":10.25,"y":0.81},{"m":3,"x":10.25,"y":0.84},{"m":3,"x":10.29,"y":0.74},{"m":3,"x":10.29,"y":0.78},{"m":3,"x":10.29,"y":0.82},{"m":3,"x":10.33,"y":0.76},{"m":3,"x":10.33,"y":0.8},{"m":3,"x":10.33,"y":0.85},{"m":3,"x":10.37,"y":0.75},{"m":3,"x":10.37,"y":0.79},{"m":3,"x":10.37,"y":0.83},{"m":3,"x":10.41,"y":0.77},{"m":3,"x":10.41,"y":0.81},{"m":3,"x":10.41,"y":0.84},{"m":3,"x":10.45,"y":0.74},{"m":3,"x":10.45,"y":0.78},{"m":3,"x":10.45,"y":0.82},{"m":3,"x":10.49,"y":0.76},{"m":3,"x":10.49,"y":0.8},{"m":3,"x":10.49,"y":0.84},{"m":3,"x":10.53,"y":0.75},{"m":3,"x":10.53,"y":0.79},{"m":3,"x":10.53,"y":0.83},{"m":3,"x":10.57,"y":0.77},{"m":3,"x":10.57,"y":0.81},{"m":3,"x":10.57,"y":0.85},{"m":3,"x":10.61,"y":0.74},{"m":3,"x":10.61,"y":0.78},{"m":3,"x":10.61,"y":0.82},{"m":3,"x":10.65,"y":0.76},{"m":3,"x":10.65,"y":0.8},{"m":3,"x":10.65,"y":0.84},{"m":3,"x":10.1,"y":0.72},{"m":3,"x":10.3,"y":0.73},{"m":3,"x":10.5,"y":0.72},{"m":3,"x":10.62,"y":0.73},
{"m":3,"x":11.01,"y":0.74},{"m":3,"x":11.01,"y":0.7},{"m":3,"x":11.02,"y":0.66},{"m":3,"x":11.01,"y":0.62},{"m":3,"x":11.01,"y":0.58},{"m":3,"x":11.01,"y":0.42},{"m":3,"x":11.01,"y":0.34},{"m":3,"x":11.02,"y":0.31},{"m":3,"x":11.01,"y":0.28},{"m":3,"x":11.01,"y":0.26},
{"m":3,"x":11.05,"y":0.75},{"m":3,"x":11.05,"y":0.79},{"m":3,"x":11.05,"y":0.83},{"m":3,"x":11.09,"y":0.77},{"m":3,"x":11.09,"y":0.81},{"m":3,"x":11.09,"y":0.85},{"m":3,"x":11.13,"y":0.74},{"m":3,"x":11.13,"y":0.78},{"m":3,"x":11.13,"y":0.82},{"m":3,"x":11.17,"y":0.76},{"m":3,"x":11.17,"y":0.8},{"m":3,"x":11.17,"y":0.84},{"m":3,"x":11.21,"y":0.75},{"m":3,"x":11.21,"y":0.79},{"m":3,"x":11.21,"y":0.83},{"m":3,"x":11.25,"y":0.77},{"m":3,"x":11.25,"y":0.81},{"m":3,"x":11.25,"y":0.84},{"m":3,"x":11.29,"y":0.74},{"m":3,"x":11.29,"y":0.78},{"m":3,"x":11.29,"y":0.82},{"m":3,"x":11.33,"y":0.76},{"m":3,"x":11.33,"y":0.8},{"m":3,"x":11.33,"y":0.85},{"m":3,"x":11.37,"y":0.75},{"m":3,"x":11.37,"y":0.79},{"m":3,"x":11.37,"y":0.83},{"m":3,"x":11.41,"y":0.77},{"m":3,"x":11.41,"y":0.81},{"m":3,"x":11.41,"y":0.84},{"m":3,"x":11.45,"y":0.74},{"m":3,"x":11.45,"y":0.78},{"m":3,"x":11.45,"y":0.82},{"m":3,"x":11.49,"y":0.76},{"m":3,"x":11.49,"y":0.8},{"m":3,"x":11.49,"y":0.84},{"m":3,"x":11.53,"y":0.75},{"m":3,"x":11.53,"y":0.79},{"m":3,"x":11.53,"y":0.83},{"m":3,"x":11.57,"y":0.77},{"m":3,"x":11.57,"y":0.81},{"m":3,"x":11.57,"y":0.85},{"m":3,"x":11.61,"y":0.74},{"m":3,"x":11.61,"y":0.78},{"m":3,"x":11.61,"y":0.82},{"m":3,"x":11.65,"y":0.76},{"m":3,"x":11.65,"y":0.8},{"m":3,"x":11.65,"y":0.84},{"m":3,"x":11.1,"y":0.72},{"m":3,"x":11.3,"y":0.73},{"m":3,"x":11.5,"y":0.72},{"m":3,"x":11.62,"y":0.73}
],
"c":[
{"m":2,"x":2.02,"y":0.12},{"m":2,"x":2.05,"y":0.09},{"m":2,"x":2.1,"y":0.06},{"m":2,"x":2.3,"y":0.075},{"m":2,"x":2.45,"y":0.07},{"m":2,"x":2.6,"y":0.06},
{"m":2,"x":2.16,"y":0.04},{"m":2,"x":2.36,"y":0.04},{"m":2,"x":2.56,"y":0.04},{"m":2,"x":2.06,"y":0.036},{"m":2,"x":2.22,"y":0.036},{"m":2,"x":2.42,"y":0.036},{"m":2,"x":2.62,"y":0.036},{"m":2,"x":2.18,"y":0.032},{"m":2,"x":2.38,"y":0.032},{"m":2,"x":2.58,"y":0.032},{"m":2,"x":2.06,"y":0.028},{"m":2,"x":2.24,"y":0.028},{"m":2,"x":2.44,"y":0.028},{"m":2,"x":2.62,"y":0.028},{"m":2,"x":2.2,"y":0.024},{"m":2,"x":2.4,"y":0.024},{"m":2,"x":2.58,"y":0.024},{"m":2,"x":2.08,"y":0.02},{"m":2,"x":2.26,"y":0.02},{"m":2,"x":2.46,"y":0.02},{"m":2,"x":2.63,"y":0.02},{"m":2,"x":2.2,"y":0.018},{"m":2,"x":2.42,"y":0.018},{"m":2,"x":2.6,"y":0.018},{"m":2,"x":2.24,"y":0.016},{"m":2,"x":2.46,"y":0.016},{"m":2,"x":2.18,"y":0.014},{"m":2,"x":2.4,"y":0.014},{"m":2,"x":2.22,"y":0.012},{"m":2,"x":2.44,"y":0.012},{"m":2,"x":2.6,"y":0.012},{"m":2,"x":2.2,"y":0.01},{"m":2,"x":2.46,"y":0.01},{"m":2,"x":2.18,"y":0.008},{"m":2,"x":2.42,"y":0.008},{"m":2,"x":2.62,"y":0.008},{"m":2,"x":2.22,"y":0.006},{"m":2,"x":2.2,"y":0.004},{"m":2,"x":2.3,"y":0.004},{"m":2,"x":2.56,"y":0.004},{"m":2,"x":2.46,"y":0.002},{"m":2,"x":2.49,"y":0.002},
{"m":2,"x":3.02,"y":0.12},{"m":2,"x":3.04,"y":0.09},{"m":2,"x":3.07,"y":0.07},{"m":2,"x":3.3,"y":0.09},{"m":2,"x":3.38,"y":0.1},{"m":2,"x":3.46,"y":0.095},{"m":2,"x":3.55,"y":0.09},{"m":2,"x":3.62,"y":0.1},{"m":2,"x":3.2,"y":0.055},{"m":2,"x":3.5,"y":0.055},
{"m":2,"x":3.16,"y":0.04},{"m":2,"x":3.36,"y":0.04},{"m":2,"x":3.56,"y":0.04},{"m":2,"x":3.06,"y":0.036},{"m":2,"x":3.22,"y":0.036},{"m":2,"x":3.42,"y":0.036},{"m":2,"x":3.62,"y":0.036},{"m":2,"x":3.18,"y":0.032},{"m":2,"x":3.38,"y":0.032},{"m":2,"x":3.58,"y":0.032},{"m":2,"x":3.06,"y":0.028},{"m":2,"x":3.24,"y":0.028},{"m":2,"x":3.44,"y":0.028},{"m":2,"x":3.62,"y":0.028},{"m":2,"x":3.2,"y":0.024},{"m":2,"x":3.4,"y":0.024},{"m":2,"x":3.58,"y":0.024},{"m":2,"x":3.26,"y":0.02},{"m":2,"x":3.46,"y":0.02},{"m":2,"x":3.2,"y":0.018},{"m":2,"x":3.42,"y":0.018},{"m":2,"x":3.24,"y":0.016},{"m":2,"x":3.38,"y":0.014},{"m":2,"x":3.42,"y":0.012},{"m":2,"x":3.26,"y":0.01},{"m":2,"x":3.46,"y":0.01},{"m":2,"x":3.5,"y":0.01},{"m":2,"x":3.3,"y":0.008},
{"m":2,"x":4.03,"y":0.16},{"m":2,"x":4.07,"y":0.12},{"m":2,"x":4.25,"y":0.14},{"m":2,"x":4.33,"y":0.13},{"m":2,"x":4.4,"y":0.15},{"m":2,"x":4.45,"y":0.14},{"m":2,"x":4.5,"y":0.15},{"m":2,"x":4.55,"y":0.13},{"m":2,"x":4.6,"y":0.14},{"m":2,"x":4.63,"y":0.12},{"m":2,"x":4.35,"y":0.09},{"m":2,"x":4.45,"y":0.08},{"m":2,"x":4.58,"y":0.09},{"m":2,"x":4.2,"y":0.06},{"m":2,"x":4.5,"y":0.045},{"m":2,"x":4.3,"y":0.05},
{"m":2,"x":4.16,"y":0.04},{"m":2,"x":4.36,"y":0.04},{"m":2,"x":4.56,"y":0.04},{"m":2,"x":4.06,"y":0.036},{"m":2,"x":4.22,"y":0.036},{"m":2,"x":4.42,"y":0.036},{"m":2,"x":4.62,"y":0.036},{"m":2,"x":4.18,"y":0.032},{"m":2,"x":4.38,"y":0.032},{"m":2,"x":4.58,"y":0.032},{"m":2,"x":4.06,"y":0.028},{"m":2,"x":4.24,"y":0.028},{"m":2,"x":4.44,"y":0.028},{"m":2,"x":4.62,"y":0.028},{"m":2,"x":4.2,"y":0.024},{"m":2,"x":4.4,"y":0.024},{"m":2,"x":4.6,"y":0.024},{"m":2,"x":4.26,"y":0.02},{"m":2,"x":4.46,"y":0.02},{"m":2,"x":4.22,"y":0.018},{"m":2,"x":4.42,"y":0.018},{"m":2,"x":4.52,"y":0.018},{"m":2,"x":4.28,"y":0.016},{"m":2,"x":4.5,"y":0.016},{"m":2,"x":4.3,"y":0.014},{"m":2,"x":4.34,"y":0.012},{"m":2,"x":4.56,"y":0.012},{"m":2,"x":4.38,"y":0.01},{"m":2,"x":4.5,"y":0.01},{"m":2,"x":4.46,"y":0.008},
{"m":2,"x":5.11,"y":3.7},{"m":2,"x":5.15,"y":4.1},{"m":2,"x":5.19,"y":3.9},{"m":2,"x":5.23,"y":3.7},{"m":2,"x":5.27,"y":4.1},{"m":2,"x":5.31,"y":3.9},{"m":2,"x":5.35,"y":3.7},{"m":2,"x":5.39,"y":4.1},{"m":2,"x":5.43,"y":3.9},{"m":2,"x":5.47,"y":3.7},{"m":2,"x":5.51,"y":4.1},{"m":2,"x":5.55,"y":3.9},{"m":2,"x":5.59,"y":3.7},{"m":2,"x":5.63,"y":4.1},{"m":2,"x":5.67,"y":3.9},
{"m":2,"x":5.04,"y":0.3},{"m":2,"x":5.05,"y":0.4},{"m":2,"x":5.05,"y":0.5},{"m":2,"x":5.06,"y":0.6},{"m":2,"x":5.06,"y":0.75},{"m":2,"x":5.07,"y":0.9},{"m":2,"x":5.07,"y":1.1},{"m":2,"x":5.08,"y":1.3},{"m":2,"x":5.08,"y":1.6},{"m":2,"x":5.09,"y":2},{"m":2,"x":5.09,"y":2.5},{"m":2,"x":5.1,"y":3},{"m":2,"x":5.1,"y":3.5},{"m":2,"x":5.06,"y":0.45},{"m":2,"x":5.07,"y":0.7},{"m":2,"x":5.08,"y":1},
{"m":2,"x":5.02,"y":0.25},{"m":2,"x":5.03,"y":0.18},{"m":2,"x":5.05,"y":0.12},{"m":2,"x":5.08,"y":0.08},{"m":2,"x":5.12,"y":0.05},{"m":2,"x":5.15,"y":0.04},{"m":2,"x":5.2,"y":0.035},{"m":2,"x":5.25,"y":0.045},{"m":2,"x":5.18,"y":0.06},{"m":2,"x":5.3,"y":0.05},{"m":2,"x":5.4,"y":0.14},{"m":2,"x":5.45,"y":0.15},{"m":2,"x":5.5,"y":0.13},{"m":2,"x":5.55,"y":0.15},{"m":2,"x":5.6,"y":0.14},{"m":2,"x":5.64,"y":0.16},{"m":2,"x":5.35,"y":0.04},{"m":2,"x":5.5,"y":0.03},
{"m":2,"x":6.04,"y":4.4},{"m":2,"x":6.1,"y":4.4},{"m":2,"x":6.16,"y":4.4},{"m":2,"x":6.22,"y":4.4},{"m":2,"x":6.3,"y":4.4},{"m":2,"x":6.4,"y":4.4},
{"m":2,"x":6.0,"y":0.04},{"m":2,"x":6.0,"y":0.07},{"m":2,"x":6.01,"y":0.1},{"m":2,"x":6.01,"y":0.14},{"m":2,"x":6.01,"y":0.2},{"m":2,"x":6.02,"y":0.28},{"m":2,"x":6.02,"y":0.38},{"m":2,"x":6.02,"y":0.5},{"m":2,"x":6.03,"y":0.65},{"m":2,"x":6.03,"y":0.85},{"m":2,"x":6.03,"y":1.1},{"m":2,"x":6.04,"y":1.4},{"m":2,"x":6.04,"y":1.8},{"m":2,"x":6.04,"y":2.3},{"m":2,"x":6.05,"y":2.9},{"m":2,"x":6.05,"y":3.6},{"m":2,"x":6.0,"y":0.05},{"m":2,"x":6.01,"y":0.12},{"m":2,"x":6.02,"y":0.3},{"m":2,"x":6.03,"y":0.7},
{"m":2,"x":6.04,"y":0.06},{"m":2,"x":6.06,"y":0.04},{"m":2,"x":6.08,"y":0.05},{"m":2,"x":6.1,"y":0.07},{"m":2,"x":6.12,"y":0.035},{"m":2,"x":6.15,"y":0.05},{"m":2,"x":6.18,"y":0.045},{"m":2,"x":6.22,"y":0.06},{"m":2,"x":6.26,"y":0.04},{"m":2,"x":6.3,"y":0.07},{"m":2,"x":6.35,"y":0.05},{"m":2,"x":6.4,"y":0.06},{"m":2,"x":6.45,"y":0.045},{"m":2,"x":6.5,"y":0.07},{"m":2,"x":6.55,"y":0.05},{"m":2,"x":6.6,"y":0.06},{"m":2,"x":6.2,"y":0.1},{"m":2,"x":6.3,"y":0.12},{"m":2,"x":6.45,"y":0.1},
{"m":2,"x":7.05,"y":5.4},{"m":2,"x":7.09,"y":5.4},{"m":2,"x":7.13,"y":5.4},{"m":2,"x":7.17,"y":5.4},
{"m":2,"x":7.02,"y":0.1},{"m":2,"x":7.02,"y":0.15},{"m":2,"x":7.03,"y":0.3},{"m":2,"x":7.03,"y":0.5},{"m":2,"x":7.04,"y":0.8},{"m":2,"x":7.04,"y":1.2},{"m":2,"x":7.05,"y":1.8},{"m":2,"x":7.05,"y":2.6},{"m":2,"x":7.06,"y":3.5},{"m":2,"x":7.03,"y":0.22},{"m":2,"x":7.04,"y":0.65},
{"m":2,"x":7.05,"y":0.06},{"m":2,"x":7.08,"y":0.045},{"m":2,"x":7.1,"y":0.07},{"m":2,"x":7.12,"y":0.05},{"m":2,"x":7.15,"y":0.08},{"m":2,"x":7.1,"y":0.1},{"m":2,"x":7.3,"y":0.2},{"m":2,"x":7.33,"y":0.25},{"m":2,"x":7.36,"y":0.18},{"m":2,"x":7.38,"y":0.28},{"m":2,"x":7.4,"y":0.22},{"m":2,"x":7.43,"y":0.16},{"m":2,"x":7.45,"y":0.24},{"m":2,"x":7.48,"y":0.2},{"m":2,"x":7.35,"y":0.14},{"m":2,"x":7.55,"y":0.14},{"m":2,"x":7.6,"y":0.1},{"m":2,"x":7.2,"y":0.06},
{"m":2,"x":8.05,"y":6.3},{"m":2,"x":8.09,"y":6.3},
{"m":2,"x":8.01,"y":0.05},{"m":2,"x":8.01,"y":0.08},{"m":2,"x":8.02,"y":0.12},{"m":2,"x":8.02,"y":0.18},{"m":2,"x":8.03,"y":0.25},{"m":2,"x":8.03,"y":0.35},{"m":2,"x":8.03,"y":0.5},{"m":2,"x":8.04,"y":0.7},{"m":2,"x":8.04,"y":1},{"m":2,"x":8.05,"y":1.4},{"m":2,"x":8.05,"y":2},{"m":2,"x":8.05,"y":2.8},{"m":2,"x":8.06,"y":4},{"m":2,"x":8.02,"y":0.03},{"m":2,"x":8.04,"y":0.6},{"m":2,"x":8.05,"y":1.7},{"m":2,"x":8.04,"y":0.07},{"m":2,"x":8.06,"y":0.05},{"m":2,"x":8.08,"y":0.1},
{"m":2,"x":9.01,"y":0.19},{"m":2,"x":9.01,"y":0.22},{"m":2,"x":9.02,"y":0.26},{"m":2,"x":9.01,"y":0.3},{"m":2,"x":9.02,"y":0.35},{"m":2,"x":9.02,"y":0.42},{"m":2,"x":9.01,"y":0.8},{"m":2,"x":9.02,"y":1.5},{"m":2,"x":9.02,"y":2.4},{"m":2,"x":9.01,"y":4},
{"m":2,"x":10.01,"y":0.14},{"m":2,"x":10.01,"y":0.25},{"m":2,"x":10.02,"y":0.3},{"m":2,"x":10.01,"y":0.35},{"m":2,"x":10.02,"y":0.42},{"m":2,"x":10.01,"y":0.6},{"m":2,"x":10.02,"y":1.2},{"m":2,"x":10.01,"y":2.2},{"m":2,"x":10.02,"y":3.5},
{"m":2,"x":11.01,"y":0.23},{"m":2,"x":11.01,"y":0.28},{"m":2,"x":11.02,"y":0.33},{"m":2,"x":11.01,"y":0.4},{"m":2,"x":11.02,"y":0.5},{"m":2,"x":11.01,"y":0.9},{"m":2,"x":11.02,"y":1.6},{"m":2,"x":11.01,"y":3},{"m":2,"x":11.02,"y":5},{"m":2,"x":11.01,"y":7.5},
{"m":3,"x":2.01,"y":0.15},{"m":3,"x":2.01,"y":0.11},{"m":3,"x":2.02,"y":0.13},{"m":3,"x":2.03,"y":0.09},{"m":3,"x":2.04,"y":0.11},{"m":3,"x":2.05,"y":0.08},{"m":3,"x":2.07,"y":0.09},{"m":3,"x":2.09,"y":0.07},{"m":3,"x":2.11,"y":0.06},{"m":3,"x":2.13,"y":0.07},{"m":3,"x":2.15,"y":0.05},{"m":3,"x":2.18,"y":0.055},{"m":3,"x":2.21,"y":0.045},{"m":3,"x":2.24,"y":0.05},{"m":3,"x":2.27,"y":0.06},{"m":3,"x":2.3,"y":0.07},{"m":3,"x":2.33,"y":0.055},{"m":3,"x":2.36,"y":0.085},{"m":3,"x":2.39,"y":0.06},{"m":3,"x":2.42,"y":0.05},{"m":3,"x":2.45,"y":0.065},{"m":3,"x":2.48,"y":0.055},{"m":3,"x":2.51,"y":0.07},{"m":3,"x":2.54,"y":0.06},{"m":3,"x":2.57,"y":0.05},{"m":3,"x":2.6,"y":0.065},{"m":3,"x":2.63,"y":0.055},{"m":3,"x":2.65,"y":0.06},
{"m":3,"x":2.1,"y":0.05},{"m":3,"x":2.2,"y":0.045},{"m":3,"x":2.3,"y":0.05},{"m":3,"x":2.4,"y":0.045},{"m":3,"x":2.5,"y":0.05},{"m":3,"x":2.6,"y":0.045},{"m":3,"x":2.15,"y":0.06},{"m":3,"x":2.35,"y":0.06},{"m":3,"x":2.55,"y":0.06},
{"m":3,"x":2.06,"y":0.04},{"m":3,"x":2.26,"y":0.04},{"m":3,"x":2.46,"y":0.04},{"m":3,"x":2.64,"y":0.04},{"m":3,"x":2.12,"y":0.036},{"m":3,"x":2.32,"y":0.036},{"m":3,"x":2.52,"y":0.036},{"m":3,"x":2.08,"y":0.032},{"m":3,"x":2.28,"y":0.032},{"m":3,"x":2.48,"y":0.032},{"m":3,"x":2.64,"y":0.032},{"m":3,"x":2.14,"y":0.028},{"m":3,"x":2.34,"y":0.028},{"m":3,"x":2.54,"y":0.028},{"m":3,"x":2.1,"y":0.024},{"m":3,"x":2.3,"y":0.024},{"m":3,"x":2.5,"y":0.024},{"m":3,"x":2.65,"y":0.024},{"m":3,"x":2.16,"y":0.02},{"m":3,"x":2.36,"y":0.02},{"m":3,"x":2.56,"y":0.02},{"m":3,"x":2.1,"y":0.018},{"m":3,"x":2.3,"y":0.018},{"m":3,"x":2.5,"y":0.018},{"m":3,"x":2.14,"y":0.016},{"m":3,"x":2.34,"y":0.016},{"m":3,"x":2.56,"y":0.016},{"m":3,"x":2.08,"y":0.014},{"m":3,"x":2.28,"y":0.014},{"m":3,"x":2.48,"y":0.014},{"m":3,"x":2.62,"y":0.014},{"m":3,"x":2.12,"y":0.012},{"m":3,"x":2.32,"y":0.012},{"m":3,"x":2.52,"y":0.012},{"m":3,"x":2.1,"y":0.01},{"m":3,"x":2.36,"y":0.01},{"m":3,"x":2.58,"y":0.01},{"m":3,"x":2.08,"y":0.008},{"m":3,"x":2.3,"y":0.008},{"m":3,"x":2.55,"y":0.008},{"m":3,"x":2.1,"y":0.006},{"m":3,"x":2.35,"y":0.006},{"m":3,"x":2.6,"y":0.006},{"m":3,"x":2.1,"y":0.004},{"m":3,"x":2.14,"y":0.004},{"m":3,"x":2.5,"y":0.004},
{"m":3,"x":3.01,"y":0.3},{"m":3,"x":3.01,"y":0.22},{"m":3,"x":3.02,"y":0.25},{"m":3,"x":3.02,"y":0.17},{"m":3,"x":3.03,"y":0.2},{"m":3,"x":3.04,"y":0.14},{"m":3,"x":3.05,"y":0.17},{"m":3,"x":3.06,"y":0.12},{"m":3,"x":3.08,"y":0.13},{"m":3,"x":3.1,"y":0.1},{"m":3,"x":3.12,"y":0.09},{"m":3,"x":3.15,"y":0.08},{"m":3,"x":3.18,"y":0.07},{"m":3,"x":3.21,"y":0.085},{"m":3,"x":3.24,"y":0.065},{"m":3,"x":3.27,"y":0.08},{"m":3,"x":3.3,"y":0.06},{"m":3,"x":3.33,"y":0.075},{"m":3,"x":3.36,"y":0.09},{"m":3,"x":3.39,"y":0.065},{"m":3,"x":3.42,"y":0.08},{"m":3,"x":3.45,"y":0.07},{"m":3,"x":3.48,"y":0.085},{"m":3,"x":3.51,"y":0.065},{"m":3,"x":3.54,"y":0.08},{"m":3,"x":3.57,"y":0.07},{"m":3,"x":3.6,"y":0.09},{"m":3,"x":3.63,"y":0.065},{"m":3,"x":3.65,"y":0.08},{"m":3,"x":3.15,"y":0.05},{"m":3,"x":3.25,"y":0.045},{"m":3,"x":3.35,"y":0.05},{"m":3,"x":3.45,"y":0.045},{"m":3,"x":3.55,"y":0.05},{"m":3,"x":3.62,"y":0.045},{"m":3,"x":3.05,"y":0.06},{"m":3,"x":3.08,"y":0.08},
{"m":3,"x":3.06,"y":0.04},{"m":3,"x":3.26,"y":0.04},{"m":3,"x":3.46,"y":0.04},{"m":3,"x":3.64,"y":0.04},{"m":3,"x":3.12,"y":0.036},{"m":3,"x":3.32,"y":0.036},{"m":3,"x":3.52,"y":0.036},{"m":3,"x":3.08,"y":0.032},{"m":3,"x":3.28,"y":0.032},{"m":3,"x":3.48,"y":0.032},{"m":3,"x":3.64,"y":0.032},{"m":3,"x":3.14,"y":0.028},{"m":3,"x":3.34,"y":0.028},{"m":3,"x":3.54,"y":0.028},{"m":3,"x":3.1,"y":0.024},{"m":3,"x":3.3,"y":0.024},{"m":3,"x":3.5,"y":0.024},{"m":3,"x":3.65,"y":0.024},{"m":3,"x":3.16,"y":0.02},{"m":3,"x":3.36,"y":0.02},{"m":3,"x":3.56,"y":0.02},{"m":3,"x":3.1,"y":0.018},{"m":3,"x":3.3,"y":0.018},{"m":3,"x":3.5,"y":0.018},{"m":3,"x":3.14,"y":0.016},{"m":3,"x":3.34,"y":0.016},{"m":3,"x":3.56,"y":0.016},{"m":3,"x":3.08,"y":0.014},{"m":3,"x":3.28,"y":0.014},{"m":3,"x":3.48,"y":0.014},{"m":3,"x":3.12,"y":0.012},{"m":3,"x":3.32,"y":0.012},{"m":3,"x":3.52,"y":0.012},{"m":3,"x":3.16,"y":0.01},{"m":3,"x":3.36,"y":0.01},{"m":3,"x":3.2,"y":0.008},{"m":3,"x":3.4,"y":0.008},{"m":3,"x":3.25,"y":0.006},{"m":3,"x":3.33,"y":0.006},
{"m":3,"x":4.01,"y":0.35},{"m":3,"x":4.01,"y":0.28},{"m":3,"x":4.02,"y":0.31},{"m":3,"x":4.02,"y":0.22},{"m":3,"x":4.03,"y":0.26},{"m":3,"x":4.04,"y":0.19},{"m":3,"x":4.05,"y":0.23},{"m":3,"x":4.06,"y":0.17},{"m":3,"x":4.08,"y":0.2},{"m":3,"x":4.1,"y":0.15},{"m":3,"x":4.12,"y":0.18},{"m":3,"x":4.14,"y":0.13},{"m":3,"x":4.17,"y":0.15},{"m":3,"x":4.2,"y":0.12},{"m":3,"x":4.23,"y":0.14},{"m":3,"x":4.26,"y":0.11},{"m":3,"x":4.29,"y":0.13},{"m":3,"x":4.32,"y":0.1},{"m":3,"x":4.35,"y":0.12},{"m":3,"x":4.38,"y":0.09},{"m":3,"x":4.41,"y":0.11},{"m":3,"x":4.44,"y":0.13},{"m":3,"x":4.47,"y":0.1},{"m":3,"x":4.5,"y":0.12},{"m":3,"x":4.53,"y":0.09},{"m":3,"x":4.56,"y":0.11},{"m":3,"x":4.59,"y":0.13},{"m":3,"x":4.62,"y":0.1},{"m":3,"x":4.65,"y":0.12},{"m":3,"x":4.08,"y":0.1},{"m":3,"x":4.12,"y":0.08},{"m":3,"x":4.18,"y":0.07},{"m":3,"x":4.24,"y":0.06},{"m":3,"x":4.3,"y":0.075},{"m":3,"x":4.36,"y":0.055},{"m":3,"x":4.42,"y":0.07},{"m":3,"x":4.48,"y":0.05},{"m":3,"x":4.54,"y":0.065},{"m":3,"x":4.6,"y":0.05},{"m":3,"x":4.64,"y":0.07},{"m":3,"x":4.06,"y":0.13},{"m":3,"x":4.15,"y":0.09},{"m":3,"x":4.27,"y":0.08},{"m":3,"x":4.4,"y":0.085},{"m":3,"x":4.52,"y":0.075},
{"m":3,"x":4.06,"y":0.04},{"m":3,"x":4.26,"y":0.04},{"m":3,"x":4.46,"y":0.04},{"m":3,"x":4.64,"y":0.04},{"m":3,"x":4.12,"y":0.036},{"m":3,"x":4.32,"y":0.036},{"m":3,"x":4.52,"y":0.036},{"m":3,"x":4.08,"y":0.032},{"m":3,"x":4.28,"y":0.032},{"m":3,"x":4.48,"y":0.032},{"m":3,"x":4.64,"y":0.032},{"m":3,"x":4.14,"y":0.028},{"m":3,"x":4.34,"y":0.028},{"m":3,"x":4.54,"y":0.028},{"m":3,"x":4.1,"y":0.024},{"m":3,"x":4.3,"y":0.024},{"m":3,"x":4.5,"y":0.024},{"m":3,"x":4.16,"y":0.02},{"m":3,"x":4.36,"y":0.02},{"m":3,"x":4.56,"y":0.02},{"m":3,"x":4.12,"y":0.018},{"m":3,"x":4.32,"y":0.018},{"m":3,"x":4.18,"y":0.016},{"m":3,"x":4.4,"y":0.016},{"m":3,"x":4.2,"y":0.014},{"m":3,"x":4.44,"y":0.014},{"m":3,"x":4.24,"y":0.012},{"m":3,"x":4.3,"y":0.01},{"m":3,"x":4.54,"y":0.008},
{"m":3,"x":5.01,"y":0.4},{"m":3,"x":5.01,"y":0.3},{"m":3,"x":5.02,"y":0.35},{"m":3,"x":5.02,"y":0.25},{"m":3,"x":5.03,"y":0.3},{"m":3,"x":5.04,"y":0.22},{"m":3,"x":5.05,"y":0.26},{"m":3,"x":5.06,"y":0.18},{"m":3,"x":5.07,"y":0.21},{"m":3,"x":5.08,"y":0.15},{"m":3,"x":5.1,"y":0.17},{"m":3,"x":5.12,"y":0.13},{"m":3,"x":5.14,"y":0.15},{"m":3,"x":5.16,"y":0.11},{"m":3,"x":5.18,"y":0.13},{"m":3,"x":5.2,"y":0.1},{"m":3,"x":5.22,"y":0.12},{"m":3,"x":5.24,"y":0.09},{"m":3,"x":5.26,"y":0.11},{"m":3,"x":5.28,"y":0.08},{"m":3,"x":5.3,"y":0.1},{"m":3,"x":5.32,"y":0.12},{"m":3,"x":5.34,"y":0.09},{"m":3,"x":5.36,"y":0.11},{"m":3,"x":5.38,"y":0.08},{"m":3,"x":5.4,"y":0.1},{"m":3,"x":5.42,"y":0.12},{"m":3,"x":5.44,"y":0.09},{"m":3,"x":5.46,"y":0.11},{"m":3,"x":5.48,"y":0.13},{"m":3,"x":5.5,"y":0.09},{"m":3,"x":5.52,"y":0.11},{"m":3,"x":5.54,"y":0.08},{"m":3,"x":5.56,"y":0.1},{"m":3,"x":5.58,"y":0.12},{"m":3,"x":5.6,"y":0.09},{"m":3,"x":5.62,"y":0.11},{"m":3,"x":5.64,"y":0.13},
{"m":3,"x":5.12,"y":0.07},{"m":3,"x":5.16,"y":0.06},{"m":3,"x":5.2,"y":0.05},{"m":3,"x":5.24,"y":0.065},{"m":3,"x":5.28,"y":0.045},{"m":3,"x":5.32,"y":0.06},{"m":3,"x":5.36,"y":0.04},{"m":3,"x":5.4,"y":0.055},{"m":3,"x":5.44,"y":0.035},{"m":3,"x":5.48,"y":0.05},{"m":3,"x":5.52,"y":0.04},{"m":3,"x":5.56,"y":0.06},{"m":3,"x":5.6,"y":0.045},{"m":3,"x":5.64,"y":0.055},{"m":3,"x":5.3,"y":0.03},{"m":3,"x":5.42,"y":0.025},{"m":3,"x":5.5,"y":0.02},{"m":3,"x":5.58,"y":0.03},{"m":3,"x":5.47,"y":0.015},{"m":3,"x":5.3,"y":0.01},{"m":3,"x":5.45,"y":0.01},{"m":3,"x":5.45,"y":0.008},{"m":3,"x":5.46,"y":0.006},{"m":3,"x":5.46,"y":0.004},
{"m":3,"x":6.05,"y":4.8},{"m":3,"x":6.09,"y":4.8},{"m":3,"x":6.13,"y":4.8},{"m":3,"x":6.17,"y":4.8},{"m":3,"x":6.21,"y":4.8},{"m":3,"x":6.25,"y":4.8},{"m":3,"x":6.29,"y":4.8},{"m":3,"x":6.33,"y":4.8},{"m":3,"x":6.37,"y":4.8},{"m":3,"x":6.41,"y":4.8},{"m":3,"x":6.45,"y":4.8},{"m":3,"x":6.49,"y":4.8},{"m":3,"x":6.53,"y":4.8},{"m":3,"x":6.57,"y":4.8},{"m":3,"x":6.61,"y":4.8},{"m":3,"x":6.65,"y":4.8},
{"m":3,"x":6.06,"y":0.25},{"m":3,"x":6.07,"y":0.35},{"m":3,"x":6.07,"y":0.5},{"m":3,"x":6.08,"y":0.7},{"m":3,"x":6.08,"y":0.9},{"m":3,"x":6.09,"y":1.2},{"m":3,"x":6.09,"y":1.6},{"m":3,"x":6.1,"y":2.1},{"m":3,"x":6.1,"y":2.8},{"m":3,"x":6.1,"y":3.6},{"m":3,"x":6.07,"y":0.3},{"m":3,"x":6.08,"y":0.45},
{"m":3,"x":6.05,"y":0.2},{"m":3,"x":6.07,"y":0.16},{"m":3,"x":6.1,"y":0.13},{"m":3,"x":6.13,"y":0.15},{"m":3,"x":6.16,"y":0.11},{"m":3,"x":6.19,"y":0.13},{"m":3,"x":6.22,"y":0.1},{"m":3,"x":6.25,"y":0.12},{"m":3,"x":6.28,"y":0.09},{"m":3,"x":6.31,"y":0.11},{"m":3,"x":6.34,"y":0.13},{"m":3,"x":6.37,"y":0.09},{"m":3,"x":6.4,"y":0.11},{"m":3,"x":6.43,"y":0.08},{"m":3,"x":6.46,"y":0.1},{"m":3,"x":6.49,"y":0.12},{"m":3,"x":6.52,"y":0.09},{"m":3,"x":6.55,"y":0.11},{"m":3,"x":6.58,"y":0.13},{"m":3,"x":6.61,"y":0.1},{"m":3,"x":6.64,"y":0.12},{"m":3,"x":6.12,"y":0.07},{"m":3,"x":6.16,"y":0.06},{"m":3,"x":6.2,"y":0.075},{"m":3,"x":6.24,"y":0.055},{"m":3,"x":6.28,"y":0.065},{"m":3,"x":6.32,"y":0.045},{"m":3,"x":6.36,"y":0.06},{"m":3,"x":6.4,"y":0.04},{"m":3,"x":6.44,"y":0.055},{"m":3,"x":6.48,"y":0.035},{"m":3,"x":6.52,"y":0.05},{"m":3,"x":6.56,"y":0.04},{"m":3,"x":6.6,"y":0.06},{"m":3,"x":6.64,"y":0.045},{"m":3,"x":6.3,"y":0.03},{"m":3,"x":6.45,"y":0.025},{"m":3,"x":6.58,"y":0.03},{"m":3,"x":6.5,"y":0.02},{"m":3,"x":6.62,"y":0.02},
{"m":3,"x":7.05,"y":5.6},{"m":3,"x":7.09,"y":5.6},{"m":3,"x":7.13,"y":5.6},{"m":3,"x":7.17,"y":5.6},{"m":3,"x":7.21,"y":5.6},{"m":3,"x":7.25,"y":5.6},{"m":3,"x":7.29,"y":5.6},{"m":3,"x":7.33,"y":5.6},{"m":3,"x":7.37,"y":5.6},{"m":3,"x":7.41,"y":5.6},{"m":3,"x":7.45,"y":5.6},{"m":3,"x":7.49,"y":5.6},{"m":3,"x":7.53,"y":5.6},{"m":3,"x":7.57,"y":5.6},{"m":3,"x":7.61,"y":5.6},{"m":3,"x":7.65,"y":5.6},
{"m":3,"x":7.05,"y":0.15},{"m":3,"x":7.06,"y":0.25},{"m":3,"x":7.06,"y":0.4},{"m":3,"x":7.07,"y":0.6},{"m":3,"x":7.07,"y":0.9},{"m":3,"x":7.08,"y":1.3},{"m":3,"x":7.08,"y":2},{"m":3,"x":7.09,"y":3},{"m":3,"x":7.09,"y":4.2},
{"m":3,"x":7.08,"y":0.13},{"m":3,"x":7.11,"y":0.09},{"m":3,"x":7.14,"y":0.11},{"m":3,"x":7.17,"y":0.07},{"m":3,"x":7.2,"y":0.09},{"m":3,"x":7.23,"y":0.06},{"m":3,"x":7.26,"y":0.08},{"m":3,"x":7.29,"y":0.05},{"m":3,"x":7.32,"y":0.07},{"m":3,"x":7.35,"y":0.1},{"m":3,"x":7.38,"y":0.06},{"m":3,"x":7.41,"y":0.08},{"m":3,"x":7.44,"y":0.11},{"m":3,"x":7.47,"y":0.07},{"m":3,"x":7.5,"y":0.09},{"m":3,"x":7.53,"y":0.12},{"m":3,"x":7.56,"y":0.08},{"m":3,"x":7.59,"y":0.1},{"m":3,"x":7.62,"y":0.13},{"m":3,"x":7.64,"y":0.09},{"m":3,"x":7.2,"y":0.04},{"m":3,"x":7.3,"y":0.035},{"m":3,"x":7.4,"y":0.045},{"m":3,"x":7.5,"y":0.05},{"m":3,"x":7.58,"y":0.06},{"m":3,"x":7.25,"y":0.12},{"m":3,"x":7.42,"y":0.15},{"m":3,"x":7.6,"y":0.16},
{"m":3,"x":8.05,"y":6.5},{"m":3,"x":8.09,"y":6.5},{"m":3,"x":8.13,"y":6.5},{"m":3,"x":8.17,"y":6.5},{"m":3,"x":8.21,"y":6.5},{"m":3,"x":8.25,"y":6.5},{"m":3,"x":8.29,"y":6.5},{"m":3,"x":8.33,"y":6.5},{"m":3,"x":8.37,"y":6.5},{"m":3,"x":8.41,"y":6.5},{"m":3,"x":8.45,"y":6.5},{"m":3,"x":8.49,"y":6.5},{"m":3,"x":8.53,"y":6.5},{"m":3,"x":8.57,"y":6.5},{"m":3,"x":8.61,"y":6.5},{"m":3,"x":8.65,"y":6.5},
{"m":3,"x":8.04,"y":0.15},{"m":3,"x":8.05,"y":0.25},{"m":3,"x":8.05,"y":0.4},{"m":3,"x":8.06,"y":0.6},{"m":3,"x":8.06,"y":0.9},{"m":3,"x":8.07,"y":1.3},{"m":3,"x":8.07,"y":2},{"m":3,"x":8.08,"y":3},{"m":3,"x":8.08,"y":4.5},
{"m":3,"x":8.1,"y":0.07},{"m":3,"x":8.12,"y":0.09},{"m":3,"x":8.14,"y":0.06},{"m":3,"x":8.16,"y":0.1},{"m":3,"x":8.18,"y":0.08},{"m":3,"x":8.2,"y":0.11},{"m":3,"x":8.22,"y":0.09},{"m":3,"x":8.25,"y":0.12},{"m":3,"x":8.28,"y":0.1},{"m":3,"x":8.3,"y":0.14},{"m":3,"x":8.33,"y":0.12},{"m":3,"x":8.36,"y":0.16},{"m":3,"x":8.39,"y":0.14},{"m":3,"x":8.42,"y":0.19},{"m":3,"x":8.45,"y":0.17},{"m":3,"x":8.48,"y":0.22},{"m":3,"x":8.5,"y":0.25},{"m":3,"x":8.53,"y":0.3},{"m":3,"x":8.55,"y":0.37},{"m":3,"x":8.12,"y":0.036},{"m":3,"x":8.15,"y":0.025},{"m":3,"x":8.2,"y":0.05},{"m":3,"x":8.6,"y":0.6},{"m":3,"x":8.61,"y":0.9},{"m":3,"x":8.61,"y":1.5},{"m":3,"x":8.62,"y":2.3},{"m":3,"x":8.62,"y":3.5},
{"m":3,"x":9.02,"y":0.45},{"m":3,"x":9.02,"y":0.55},{"m":3,"x":9.01,"y":0.65},{"m":3,"x":9.02,"y":0.75},{"m":3,"x":9.02,"y":0.9},{"m":3,"x":9.01,"y":1.1},{"m":3,"x":9.02,"y":1.3},{"m":3,"x":9.02,"y":1.7},{"m":3,"x":9.01,"y":2},{"m":3,"x":9.02,"y":2.8},{"m":3,"x":9.02,"y":3.5},{"m":3,"x":9.01,"y":4.8},{"m":3,"x":9.02,"y":6},
{"m":3,"x":9.05,"y":7.2},{"m":3,"x":9.09,"y":7.2},{"m":3,"x":9.13,"y":7.2},{"m":3,"x":9.17,"y":7.2},{"m":3,"x":9.21,"y":7.2},{"m":3,"x":9.25,"y":7.2},{"m":3,"x":9.29,"y":7.2},{"m":3,"x":9.33,"y":7.2},{"m":3,"x":9.37,"y":7.2},{"m":3,"x":9.41,"y":7.2},{"m":3,"x":9.45,"y":7.2},{"m":3,"x":9.49,"y":7.2},{"m":3,"x":9.53,"y":7.2},{"m":3,"x":9.57,"y":7.2},{"m":3,"x":9.61,"y":7.2},{"m":3,"x":9.65,"y":7.2},
{"m":3,"x":10.01,"y":0.28},{"m":3,"x":10.02,"y":0.5},{"m":3,"x":10.01,"y":0.7},{"m":3,"x":10.02,"y":0.9},{"m":3,"x":10.01,"y":1.1},{"m":3,"x":10.02,"y":1.5},{"m":3,"x":10.01,"y":1.9},{"m":3,"x":10.02,"y":2.6},{"m":3,"x":10.01,"y":3.2},{"m":3,"x":10.02,"y":4.5},{"m":3,"x":10.01,"y":5.8},{"m":3,"x":10.02,"y":7},
{"m":3,"x":10.05,"y":8.0},{"m":3,"x":10.09,"y":8.0},{"m":3,"x":10.13,"y":8.0},{"m":3,"x":10.17,"y":8.0},{"m":3,"x":10.21,"y":8.0},{"m":3,"x":10.25,"y":8.0},{"m":3,"x":10.29,"y":8.0},{"m":3,"x":10.33,"y":8.0},{"m":3,"x":10.37,"y":8.0},{"m":3,"x":10.41,"y":8.0},{"m":3,"x":10.45,"y":8.0},{"m":3,"x":10.49,"y":8.0},{"m":3,"x":10.53,"y":8.0},{"m":3,"x":10.57,"y":8.0},{"m":3,"x":10.61,"y":8.0},{"m":3,"x":10.65,"y":8.0},
{"m":3,"x":11.01,"y":0.45},{"m":3,"x":11.02,"y":0.6},{"m":3,"x":11.01,"y":0.75},{"m":3,"x":11.02,"y":1},{"m":3,"x":11.01,"y":1.3},{"m":3,"x":11.02,"y":2},{"m":3,"x":11.01,"y":2.5},{"m":3,"x":11.02,"y":3.8},{"m":3,"x":11.01,"y":6},{"m":3,"x":11.02,"y":8},
{"m":3,"x":11.05,"y":8.9},{"m":3,"x":11.09,"y":8.9},{"m":3,"x":11.13,"y":8.9},{"m":3,"x":11.17,"y":8.9},{"m":3,"x":11.21,"y":8.9},{"m":3,"x":11.25,"y":8.9},{"m":3,"x":11.29,"y":8.9},{"m":3,"x":11.33,"y":8.9},{"m":3,"x":11.37,"y":8.9},{"m":3,"x":11.41,"y":8.9},{"m":3,"x":11.45,"y":8.9},{"m":3,"x":11.49,"y":8.9},{"m":3,"x":11.53,"y":8.9},{"m":3,"x":11.57,"y":8.9},{"m":3,"x":11.61,"y":8.9},{"m":3,"x":11.65,"y":8.9}
]
},
"concat":[
{
"width":428,"height":300,
"data":{"name":"t"},
"layer":[
{"transform":[{"filter":"datum.m==2"}],
"mark":{"type":"circle","size":22,"opacity":1},
"encoding":{
"x":{"field":"x","type":"quantitative","scale":{"domain":[2,12],"nice":false,"zero":false},"axis":{"orient":"bottom","title":"K + time/300","values":[2,4,6,8,10,12],"format":"~g","labelPadding":6,"titlePadding":2}},
"y":{"field":"y","type":"quantitative","scale":{"domain":[0,1],"nice":false},"axis":{"orient":"left","title":"Turnout","values":[0,0.2,0.4,0.6,0.8,1],"format":"~g","labelFontSize":13,"titlePadding":0}},
"color":{"field":"m","type":"nominal","scale":{"domain":[2,3],"range":["#ff0000","#0000ff"]},"legend":{"title":null,"legendX":21,"legendY":22,"labelExpr":"'Model ' + datum.label","symbolSize":14,"symbolType":"circle"}}
}},
{"transform":[{"filter":"datum.m==3"}],
"mark":{"type":"circle","size":22,"opacity":1},
"encoding":{
"x":{"field":"x","type":"quantitative","axis":{"orient":"top","title":null,"labels":false,"values":[2,4,6,8,10,12]}},
"y":{"field":"y","type":"quantitative","axis":{"orient":"right","title":null,"labels":false,"values":[0,0.2,0.4,0.6,0.8,1]}},
"color":{"field":"m","type":"nominal"}
}}
],
"resolve":{"axis":{"x":"independent","y":"independent"}}
},
{
"width":428,"height":292,
"view":{"stroke":null},
"data":{"name":"c"},
"layer":[
{"transform":[{"filter":"datum.m==2"}],
"mark":{"type":"point","filled":false,"size":16,"strokeWidth":0.8,"opacity":1},
"encoding":{
"x":{"field":"x","type":"quantitative","scale":{"domain":[2,12],"range":[10,428],"nice":false,"zero":false},"axis":{"orient":"bottom","domain":true,"title":"K + time/300","values":[2,4,6,8,10,12],"format":"~g","labelPadding":9,"titlePadding":2}},
"y":{"field":"y","type":"quantitative","scale":{"type":"log","domain":[0.001,10],"nice":false},"axis":{"orient":"left","domain":true,"offset":-10,"title":"Conversations per agent per year","values":[0.001,0.01,0.1,1,10],"format":"~g","labelPadding":8,"titlePadding":1,"titleFontSize":20,"titleY":129}},
"color":{"field":"m","type":"nominal","scale":{"domain":[2,3],"range":["#ff0000","#0000ff"]},"legend":{"title":null,"legendX":30,"legendY":19,"labelExpr":"'Model ' + datum.label","symbolSize":20}},
"shape":{"field":"m","type":"nominal","scale":{"domain":[2,3],"range":["circle","M-1,0H1M0,-1V1"]},"legend":{"title":null,"legendX":30,"legendY":19,"labelExpr":"'Model ' + datum.label","symbolSize":20}}
}},
{"transform":[{"filter":"datum.m==3"}],
"mark":{"type":"point","filled":false,"size":22,"strokeWidth":0.9,"opacity":1},
"encoding":{
"x":{"field":"x","type":"quantitative","axis":{"orient":"top","domain":true,"title":null,"labels":false,"values":[2,4,6,8,10,12]}},
"y":{"field":"y","type":"quantitative","axis":{"orient":"right","domain":true,"title":null,"labels":false,"values":[0.001,0.01,0.1,1,10]}},
"color":{"field":"m","type":"nominal"},
"shape":{"field":"m","type":"nominal"}
}}
],
"resolve":{"axis":{"x":"independent","y":"independent"}}
}
]
}
